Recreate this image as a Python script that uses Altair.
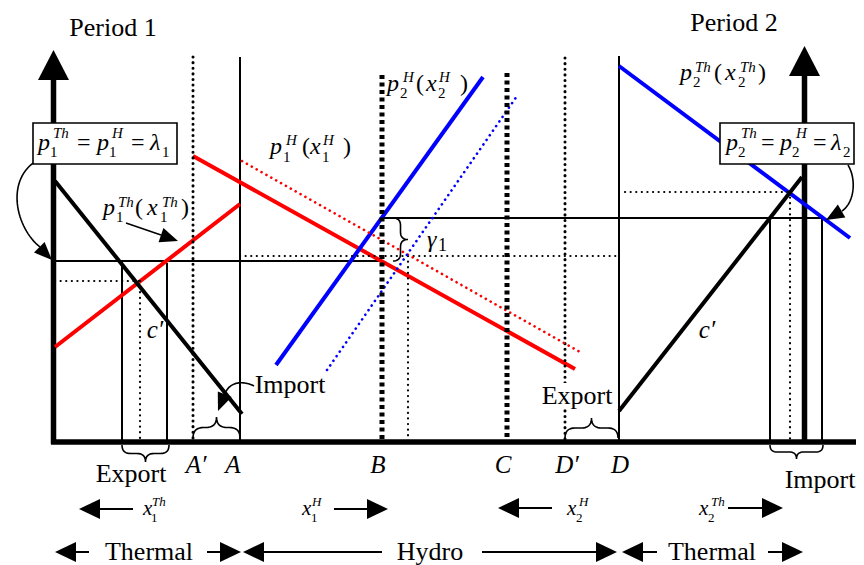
import altair as alt
import pandas as pd

FONT = "Liberation Serif"
RED, BLUE, BLACK = "#ff0000", "#0000ff", "#000000"

# ---------------- straight solid segments: x1, y1, x2, y2, colour, width
AXIS_LINES = [
    (53.5, 79, 53.5, 444, BLACK, 5.5),     # Period 1 price axis
    (804.5, 74, 804.5, 444, BLACK, 5.5),   # Period 2 price axis
    (51, 442, 856, 442, BLACK, 5.5),       # quantity axis
]
THIN_LINES = [
    (240, 57, 240, 442, BLACK, 2),   # A
    (619, 56, 619, 442, BLACK, 2),   # D
    (122, 261, 122, 442, BLACK, 2),  # export box, period 1
    (167, 263, 167, 442, BLACK, 2),
    (770, 218, 770, 442, BLACK, 2),  # import box, period 2
    (822, 218, 822, 442, BLACK, 2),
    (53.5, 261, 382, 261, BLACK, 2), # lambda 1
    (382, 218, 822, 218, BLACK, 2),  # lambda 2
    (126, 223, 161, 235, BLACK, 1.5),  # pointer to p1Th
]
CURVE_LINES = [
    (55, 347, 240, 204, RED, 4),     # p1Th(x1Th)
    (193, 156, 575, 369, RED, 4),    # p1H(x1H)
    (276, 365, 483, 77, BLUE, 4),    # p2H(x2H)
    (619, 66, 850, 238, BLUE, 4),    # p2Th(x2Th)
    (55, 181, 242, 414, BLACK, 4),   # c' period 1
    (619, 411, 802, 177, BLACK, 4),  # c' period 2
]
ARROW_SHAFTS = [
    (100, 509, 133, 509), (367, 509, 334, 509), (519, 508, 552, 508), (762, 508, 728, 508),
    (76, 552, 89, 552), (220, 552, 207, 552), (264, 552, 382, 552), (596, 552, 482, 552),
    (643, 552, 657, 552), (782, 552, 768, 552),
]
# ---------------- dotted (round dots) segments
DOTTED_LINES = [
    (193, 57, 193, 442, BLACK, 3),    # A'
    (565, 58, 565, 442, BLACK, 3),    # D'
    (408, 256, 408, 442, BLACK, 2.2),
    (140, 281, 140, 442, BLACK, 2.2),
    (790, 192, 790, 442, BLACK, 2.2),
    (55, 281, 140, 281, BLACK, 2.2),
    (240, 256, 617, 256, BLACK, 2.2),
    (625, 192, 790, 192, BLACK, 2.2),
    (242, 161, 580, 352, RED, 2.6),   # shifted p1H
    (327, 370, 517, 96, BLUE, 2.6),   # shifted p2H
]
# ---------------- square-dashed thick segments
DASHED_LINES = [
    (382, 75, 382, 442, BLACK, 5),    # B
    (507, 73, 507, 442, BLACK, 5),    # C
]
# ---------------- curved pointers (cubic control points)
CURVES = [
    [(33, 163), (5, 185), (18, 230), (40, 247)],
    [(848, 165), (857, 180), (854, 203), (842, 211)],
    [(254, 386), (240, 379), (228, 384), (225, 394)],
]
# ---------------- braces: orientation, start, end, base, half depth, direction
BRACES = [
    ("h", 122, 169, 445, 8.5, 1),
    ("h", 193, 240, 438, 10.5, -1),
    ("h", 565, 618, 438, 10, -1),
    ("h", 770, 823, 445, 7, 1),
    ("v", 218, 261, 393, 7.5, 1),
]
# ---------------- arrowheads: tip x, tip y, angle, kind
HEAD_KINDS = {"axis": (30, 31), "row": (21, 20), "small": (18, 15)}
HEADS = [
    (53.5, 50, 0, "axis"), (804.5, 46, 0, "axis"),
    (79, 509, 270, "row"), (388, 509, 90, "row"), (498, 508, 270, "row"), (783, 508, 90, "row"),
    (55, 552, 270, "row"), (241, 552, 90, "row"), (243, 552, 270, "row"), (617, 552, 90, "row"),
    (622, 552, 270, "row"), (803, 552, 90, "row"),
    (52, 260, 135, "small"), (826, 220, 240, "small"), (218, 411, 202, "small"), (178, 241, 109, "small"),
]
# ---------------- boxes: x1, y1, x2, y2, stroked
BOXES = [
    (33, 123, 177, 164, True),
    (720, 123, 854, 164, True),
    (540, 383, 614, 409, False),
]
# ---------------- texts
PLAIN_TEXT = [
    ("Period 1", 113, 36), ("Period 2", 734, 31),
    ("Export", 131, 482), ("Export", 577, 404),
    ("Import", 290, 393), ("Import", 820, 488),
    ("Thermal", 149, 560), ("Hydro", 430, 560), ("Thermal", 712, 560),
]
ITALIC_TEXT = [
    ("A\u2032", 196, 473), ("A", 233, 473), ("B", 378, 473), ("C", 503, 473),
    ("D\u2032", 567, 473), ("D", 620, 473), ("c\u2032", 155, 338), ("c\u2032", 707, 338),
]
# math pieces: text, left x, baseline, size, italic
MATH = [
    ("p", 38, 150, 24, 1), ("1", 50, 157, 15, 0), ("Th", 53, 138, 15, 1),
    ("=", 77, 150, 24, 0), ("p", 97, 150, 24, 1), ("1", 109, 157, 15, 0), ("H", 112, 138, 15, 1),
    ("=", 131, 150, 24, 0), ("\u03bb", 150, 150, 24, 1), ("1", 162, 157, 15, 0),
    ("p", 726, 150, 24, 1), ("2", 738, 157, 15, 0), ("Th", 741, 138, 15, 1),
    ("=", 761, 150, 24, 0), ("p", 780, 150, 24, 1), ("2", 792, 157, 15, 0), ("H", 796, 138, 15, 1),
    ("=", 813, 150, 24, 0), ("\u03bb", 831, 150, 24, 1), ("2", 843, 157, 15, 0),
    ("p", 103, 215, 24, 1), ("1", 116, 222, 15, 0), ("Th", 118, 207, 15, 1), ("(", 135, 215, 24, 0),
    ("x", 147, 215, 24, 1), ("1", 160, 222, 15, 0), ("Th", 162, 207, 15, 1), (")", 181, 215, 24, 0),
    ("p", 270, 154, 24, 1), ("1", 283, 162, 15, 0), ("H", 286, 145, 15, 1), ("(", 302, 154, 24, 0),
    ("x", 310, 154, 24, 1), ("1", 322, 162, 15, 0), ("H", 323, 145, 15, 1), (")", 343, 154, 24, 0),
    ("p", 387, 91, 24, 1), ("2", 400, 98, 15, 0), ("H", 403, 82, 15, 1), ("(", 416, 91, 24, 0),
    ("x", 426, 91, 24, 1), ("2", 438, 98, 15, 0), ("H", 439, 82, 15, 1), (")", 460, 91, 24, 0),
    ("p", 680, 80, 24, 1), ("2", 693, 87, 15, 0), ("Th", 695, 72, 15, 1), ("(", 714, 80, 24, 0),
    ("x", 725, 80, 24, 1), ("2", 738, 87, 15, 0), ("Th", 740, 72, 15, 1), (")", 758, 80, 24, 0),
    ("\u03b3", 427, 247, 24, 1), ("1", 438, 251, 18, 0),
    ("x", 143, 515, 21, 1), ("1", 151, 522, 13, 0), ("Th", 152, 506, 13, 1),
    ("x", 302, 515, 21, 1), ("1", 311, 522, 13, 0), ("H", 312, 506, 13, 1),
    ("x", 567, 515, 21, 1), ("2", 576, 522, 13, 0), ("H", 579, 506, 13, 1),
    ("x", 699, 515, 21, 1), ("2", 708, 522, 13, 0), ("Th", 711, 506, 13, 1),
]

# ---------------- geometry helpers
def bezier(p0, p1, p2, p3, n=30):
    pts = []
    for k in range(n + 1):
        t = k / n
        a, b, c, d = (1 - t) ** 3, 3 * (1 - t) ** 2 * t, 3 * (1 - t) * t ** 2, t ** 3
        pts.append((a * p0[0] + b * p1[0] + c * p2[0] + d * p3[0],
                    a * p0[1] + b * p1[1] + c * p2[1] + d * p3[1]))
    return pts


def quad(p0, p1, p2, n=10):
    out = []
    for k in range(n + 1):
        t = k / n
        out.append(((1 - t) ** 2 * p0[0] + 2 * (1 - t) * t * p1[0] + t ** 2 * p2[0],
                    (1 - t) ** 2 * p0[1] + 2 * (1 - t) * t * p1[1] + t ** 2 * p2[1]))
    return out


def brace(orient, a0, a1, base, h, sign):
    m = (a0 + a1) / 2
    r = min(h, (a1 - a0) / 4)
    loc = []
    loc += quad((a0, 0), (a0, h), (a0 + r, h))
    loc += quad((m - r, h), (m, h), (m, 2 * h))
    loc += quad((m, 2 * h), (m, h), (m + r, h))
    loc += quad((a1 - r, h), (a1, h), (a1, 0))
    if orient == "h":
        return [(u, base + sign * v) for u, v in loc]
    return [(base + sign * v, u) for u, v in loc]


# page pixel coordinates: chart spans x 8..856, y 8..565
XS = alt.Scale(domain=[8, 856], nice=False, zero=False)
YS = alt.Scale(domain=[8, 565], reverse=True, nice=False, zero=False)


def seg_df(rows):
    return pd.DataFrame(rows, columns=["x", "y", "x2", "y2", "color", "w"])


def rule_layer(df, **mk):
    return alt.Chart(df).mark_rule(**mk).encode(
        x=alt.X("x:Q", scale=XS, axis=None), y=alt.Y("y:Q", scale=YS, axis=None),
        x2="x2:Q", y2="y2:Q",
        color=alt.Color("color:N", scale=None),
        strokeWidth=alt.StrokeWidth("w:Q", scale=None),
    )


solid_rows = AXIS_LINES + THIN_LINES + CURVE_LINES + [(a, b, c, d, BLACK, 2) for a, b, c, d in ARROW_SHAFTS]
layers = [
    rule_layer(seg_df(solid_rows), strokeCap="butt"),
    rule_layer(seg_df(DOTTED_LINES), strokeCap="round", strokeDash=[0.1, 5.5]),
    rule_layer(seg_df(DASHED_LINES), strokeCap="butt", strokeDash=[4, 3.5]),
]

# curved strokes (pointers and braces)
path_rows = []
for cid, c in enumerate(CURVES):
    for i, (px, py) in enumerate(bezier(*c)):
        path_rows.append({"x": px, "y": py, "id": f"c{cid}", "i": i})
for bid, b in enumerate(BRACES):
    for i, (px, py) in enumerate(brace(*b)):
        path_rows.append({"x": px, "y": py, "id": f"b{bid}", "i": i})
layers.append(
    alt.Chart(pd.DataFrame(path_rows)).mark_line(color=BLACK, strokeWidth=1.6).encode(
        x=alt.X("x:Q", scale=XS, axis=None), y=alt.Y("y:Q", scale=YS, axis=None),
        detail="id:N", order="i:Q",
    )
)

# boxes
box_df = pd.DataFrame(BOXES, columns=["x", "y", "x2", "y2", "stroked"])
layers.append(
    alt.Chart(box_df[box_df.stroked]).mark_rect(fill="white", stroke=BLACK, strokeWidth=1.6).encode(
        x=alt.X("x:Q", scale=XS, axis=None), y=alt.Y("y:Q", scale=YS, axis=None), x2="x2:Q", y2="y2:Q")
)
layers.append(
    alt.Chart(box_df[~box_df.stroked]).mark_rect(fill="white").encode(
        x=alt.X("x:Q", scale=XS, axis=None), y=alt.Y("y:Q", scale=YS, axis=None), x2="x2:Q", y2="y2:Q")
)

# arrowheads
head_df = pd.DataFrame(HEADS, columns=["x", "y", "angle", "kind"])
for kind, (ln, wd) in HEAD_KINDS.items():
    path = f"M0,0L{wd / 2},{ln}L{-wd / 2},{ln}Z"
    layers.append(
        alt.Chart(head_df[head_df.kind == kind]).mark_point(
            shape=path, size=4, filled=True, opacity=1, color=BLACK, strokeWidth=0
        ).encode(
            x=alt.X("x:Q", scale=XS, axis=None), y=alt.Y("y:Q", scale=YS, axis=None),
            angle=alt.Angle("angle:Q", scale=None),
        )
    )

# texts
plain_df = pd.DataFrame(PLAIN_TEXT, columns=["text", "x", "y"])
layers.append(
    alt.Chart(plain_df).mark_text(font=FONT, fontSize=26, align="center", baseline="alphabetic", color=BLACK).encode(
        x=alt.X("x:Q", scale=XS, axis=None), y=alt.Y("y:Q", scale=YS, axis=None), text="text:N")
)
ital_df = pd.DataFrame(ITALIC_TEXT, columns=["text", "x", "y"])
layers.append(
    alt.Chart(ital_df).mark_text(font=FONT, fontSize=25, fontStyle="italic", align="center",
                                 baseline="alphabetic", color=BLACK).encode(
        x=alt.X("x:Q", scale=XS, axis=None), y=alt.Y("y:Q", scale=YS, axis=None), text="text:N")
)
math_df = pd.DataFrame(MATH, columns=["text", "x", "y", "size", "it"])
for it, style in [(1, "italic"), (0, "normal")]:
    layers.append(
        alt.Chart(math_df[math_df.it == it]).mark_text(font=FONT, fontStyle=style, align="left",
                                                       baseline="alphabetic", color=BLACK).encode(
            x=alt.X("x:Q", scale=XS, axis=None), y=alt.Y("y:Q", scale=YS, axis=None),
            text="text:N", size=alt.Size("size:Q", scale=None))
    )

chart = alt.layer(*layers).properties(
    width=848, height=557,
    autosize=alt.AutoSizeParams(type="none"),
    padding=0,
).configure_view(stroke=None)

chart.save("out.html", embed_options={"renderer": "svg", "actions": False})
